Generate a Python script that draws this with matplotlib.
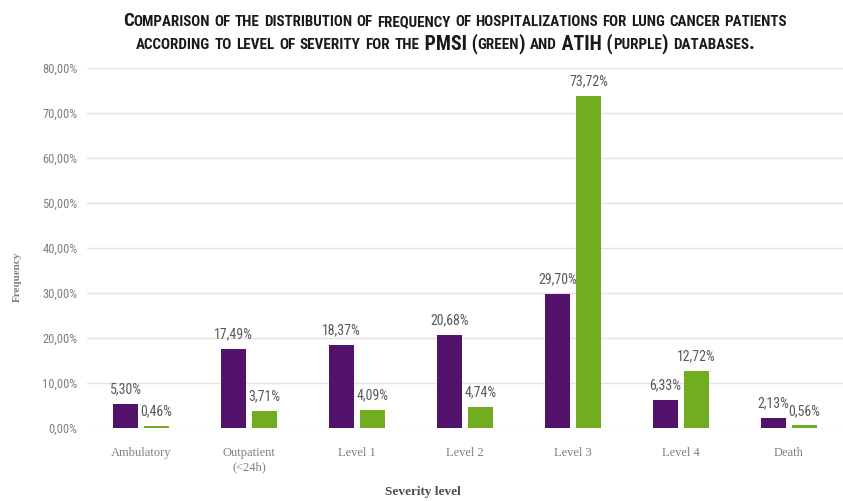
import matplotlib
matplotlib.use("Agg")
import matplotlib.pyplot as plt
import numpy as np
from matplotlib import font_manager as fm

entries = fm.fontManager.ttflist
names = {f.name for f in entries}

def pick_narrow():
    for n in ["Liberation Sans Narrow", "Roboto Condensed", "Open Sans Condensed",
              "Noto Sans Condensed", "Arial Narrow", "DejaVu Sans Condensed"]:
        if n in names:
            return n, "normal"
    for f in entries:
        if f.name in ("Noto Sans", "Open Sans", "Roboto", "DejaVu Sans") and \
                str(f.stretch) in ("condensed", "semi-condensed", "extra-condensed"):
            return f.name, str(f.stretch)
    return "Liberation Sans", "normal"

NARROW, STRETCH = pick_narrow()
SERIF = "Liberation Serif" if "Liberation Serif" in names else "DejaVu Serif"

categories = ["Ambulatory", "Outpatient\n(<24h)", "Level 1", "Level 2", "Level 3", "Level 4", "Death"]
atih_purple = [5.30, 17.49, 18.37, 20.68, 29.70, 6.33, 2.13]
pmsi_green = [0.46, 3.71, 4.09, 4.74, 73.72, 12.72, 0.56]
yticks = [0, 10, 20, 30, 40, 50, 60, 70, 80]

PURPLE = "#52116b"
GREEN = "#72ad21"

fig = plt.figure(figsize=(8.43, 5.01), dpi=100)
ax = fig.add_axes([87/843, 73/501, (843-87)/843, 360/501])

x = np.arange(len(categories))
w = 25/108
gap = 6/108
ax.bar(x - (w+gap)/2, atih_purple, width=w, color=PURPLE, zorder=3)
ax.bar(x + (w+gap)/2, pmsi_green, width=w, color=GREEN, zorder=3)

def fmt(v):
    return f"{v:.2f}".replace(".", ",") + "%"

lab_kw = dict(ha="center", va="bottom", fontsize=10, color="#595959",
              family=NARROW, stretch=STRETCH)
for xi, v in zip(x, atih_purple):
    ax.annotate(fmt(v), (xi - (w+gap)/2, v), xytext=(0, 5.5), textcoords="offset points", **lab_kw)
for xi, v in zip(x, pmsi_green):
    ax.annotate(fmt(v), (xi + (w+gap)/2, v), xytext=(0, 5.5), textcoords="offset points", **lab_kw)

ax.set_xlim(-0.5, len(categories) - 0.5)
ax.set_ylim(0, 80)
ax.set_yticks(yticks)
ax.set_yticklabels([f"{t},00%" for t in yticks], family=NARROW, stretch=STRETCH,
                   fontsize=9, color="#7f7f7f")
ax.set_xticks(x)
ax.set_xticklabels(categories, family=SERIF, fontsize=9, color="#7f7f7f")
ax.tick_params(axis="both", length=0)
ax.tick_params(axis="y", pad=7)
ax.tick_params(axis="x", pad=14)
ax.yaxis.grid(True, color="#e3e3e3", linewidth=1, zorder=0)
for s in ax.spines.values():
    s.set_visible(False)

fig.text(17/843, 1 - 277/501, "Frequency", rotation=90, ha="center", va="center",
         family=SERIF, fontsize=8, fontweight="bold", color="#7f7f7f")
fig.text(423/843, 1 - 492/501, "Severity level", ha="center", va="center",
         family=SERIF, fontsize=9.5, fontweight="bold", color="#4d4d4d")

# small caps title
renderer = fig.canvas.get_renderer()

def small_caps_line(text, baseline_px, xcenter_px, target_w, big, small):
    runs = []
    for ch in text:
        isbig = not ch.islower()
        if runs and runs[-1][1] == isbig:
            runs[-1][0] += ch
        else:
            runs.append([ch, isbig])
    objs = []
    for s, isbig in runs:
        t = fig.text(0, 1 - baseline_px/501, s.upper(), fontsize=big if isbig else small,
                     fontweight="bold", family=NARROW, stretch=STRETCH, color="#1a1a1a",
                     va="baseline", ha="left")
        t._isbig = isbig
        objs.append(t)
    total = sum(o.get_window_extent(renderer).width for o in objs)
    scale = target_w / total
    for o in objs:
        o.set_fontsize((big if o._isbig else small) * scale)
    widths = [o.get_window_extent(renderer).width for o in objs]
    total = sum(widths)
    xpos = xcenter_px - total/2
    for o, wd in zip(objs, widths):
        o.set_x(xpos/843)
        xpos += wd

small_caps_line("Comparison of the distribution of frequency of hospitalizations for lung cancer patients",
                26, 455, 668, 12, 9.5)
small_caps_line("according to level of severity for the PMSI (green) and ATIH (purple) databases.",
                49, 445, 620, 12.5, 9.5)

fig.savefig("out.png", dpi=100)
